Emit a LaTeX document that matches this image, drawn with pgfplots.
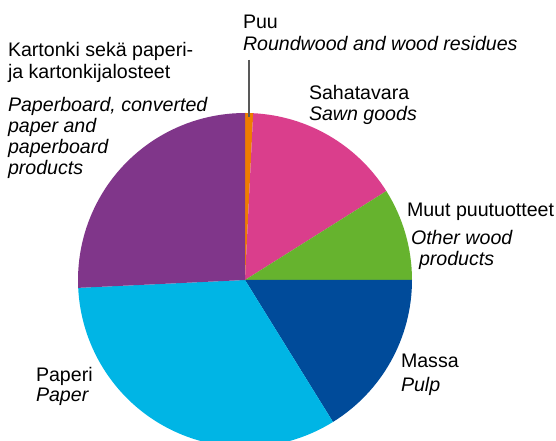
\documentclass[border=0pt]{standalone}
\usepackage{fontspec}
\setmainfont{Liberation Sans}
\usepackage{pgfplots}
\pgfplotsset{compat=1.18}

\definecolor{c1}{HTML}{EE7D00} % Puu
\definecolor{c2}{HTML}{DA3E8C} % Sahatavara
\definecolor{c3}{HTML}{66B32E} % Muut puutuotteet
\definecolor{c4}{HTML}{004B9A} % Massa
\definecolor{c5}{HTML}{00B5E5} % Paperi
\definecolor{c6}{HTML}{80368A} % Kartonki

\tikzset{lbl/.style={inner sep=0pt, outer sep=0pt, anchor=base west,
  font=\fontsize{19.6bp}{21bp}\selectfont}}

\begin{document}
\begin{tikzpicture}
% shares in percent, clockwise from twelve o'clock
\gdef\cur{90}
\foreach \v [count=\i] in {0.78,15.28,8.94,16.17,33.08,25.75}{
  \pgfmathsetmacro\nxt{\cur-3.6*\v}
  \expandafter\xdef\csname s\i\endcsname{\cur}
  \expandafter\xdef\csname e\i\endcsname{\nxt}
  \xdef\cur{\nxt}
}
\begin{axis}[
    width=556bp, height=441bp, scale only axis,
    xmin=0, xmax=556, ymin=0, ymax=441,
    hide axis,
  ]
  \pgfplotsinvokeforeach{1,...,6}{
    \fill[c#1] (axis cs:245,161) -- +(\csname s#1\endcsname:167bp)
      arc[start angle=\csname s#1\endcsname, end angle=\csname e#1\endcsname, radius=167bp] -- cycle;
  }
  \draw[gray!70!black, line width=1.2bp] (axis cs:249,381) -- (axis cs:249,324);

  \node[lbl] at (axis cs:243,412) {Puu};
  \node[lbl] at (axis cs:243,390) {\itshape Roundwood and wood residues};

  \node[lbl] at (axis cs:8,384) {Kartonki sekä paperi-};
  \node[lbl] at (axis cs:8,362) {ja kartonkijalosteet};
  \node[lbl] at (axis cs:8,329) {\itshape Paperboard, converted};
  \node[lbl] at (axis cs:8,308) {\itshape paper and};
  \node[lbl] at (axis cs:8,287) {\itshape paperboard};
  \node[lbl] at (axis cs:8,266) {\itshape products};

  \node[lbl] at (axis cs:309,341) {Sahatavara};
  \node[lbl] at (axis cs:309,320) {\itshape Sawn goods};

  \node[lbl] at (axis cs:407,224) {Muut puutuotteet};
  \node[lbl] at (axis cs:411,196) {\itshape Other wood};
  \node[lbl] at (axis cs:419,175) {\itshape products};

  \node[lbl] at (axis cs:401,73) {Massa};
  \node[lbl] at (axis cs:401,49) {\itshape Pulp};

  \node[lbl] at (axis cs:36,59) {Paperi};
  \node[lbl] at (axis cs:36,39) {\itshape Paper};
\end{axis}
\pgfresetboundingbox
\path (current axis.south west) rectangle (current axis.north east);
\end{tikzpicture}
\end{document}
